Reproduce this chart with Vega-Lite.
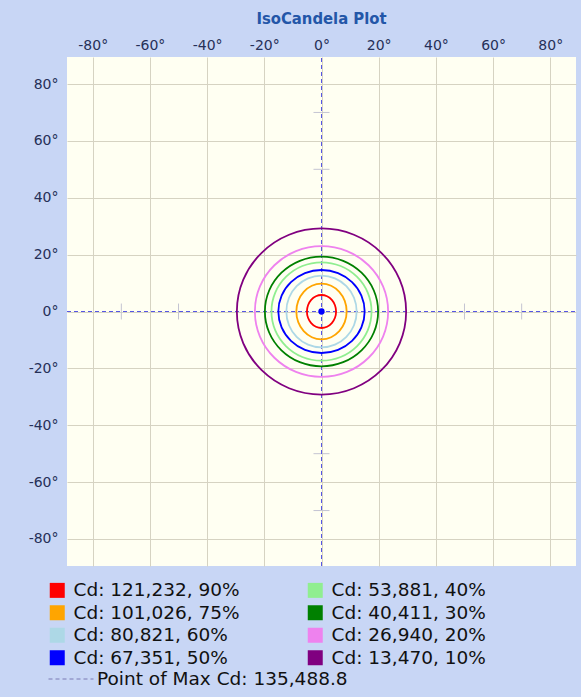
{
  "$schema": "https://vega.github.io/schema/vega-lite/v6.json",
  "autosize": {"type": "none"},
  "padding": {"left": 67, "top": 57, "right": 5, "bottom": 131},
  "width": 509,
  "height": 509,
  "background": "#c8d6f5",
  "title": {
    "text": "IsoCandela Plot",
    "font": "'DejaVu Sans Condensed', 'DejaVu Sans'",
    "fontSize": 16.5,
    "fontWeight": "bold",
    "color": "#2356a8",
    "anchor": "middle",
    "offset": 11
  },
  "config": {
    "view": {"fill": "#fffff2", "stroke": null},
    "axis": {
      "grid": true,
      "gridColor": "#d6d3c2",
      "gridWidth": 1,
      "domain": false,
      "ticks": false,
      "title": null,
      "labelFont": "DejaVu Sans",
      "labelFontSize": 14,
      "labelColor": "#263058"
    },
    "legend": {
      "labelFont": "DejaVu Sans",
      "labelFontSize": 18.5,
      "labelColor": "#111111",
      "labelLimit": 400,
      "title": null
    }
  },
  "datasets": {
    "contours": [
      {"c": "Cd: 121,232, 90%", "i": 0, "x": 5.1, "y": 0},
      {"c": "Cd: 121,232, 90%", "i": 1, "x": 4.71, "y": 2.22},
      {"c": "Cd: 121,232, 90%", "i": 2, "x": 3.61, "y": 4.1},
      {"c": "Cd: 121,232, 90%", "i": 3, "x": 1.95, "y": 5.36},
      {"c": "Cd: 121,232, 90%", "i": 4, "x": 0, "y": 5.8},
      {"c": "Cd: 121,232, 90%", "i": 5, "x": -1.95, "y": 5.36},
      {"c": "Cd: 121,232, 90%", "i": 6, "x": -3.61, "y": 4.1},
      {"c": "Cd: 121,232, 90%", "i": 7, "x": -4.71, "y": 2.22},
      {"c": "Cd: 121,232, 90%", "i": 8, "x": -5.1, "y": 0},
      {"c": "Cd: 121,232, 90%", "i": 9, "x": -4.71, "y": -2.22},
      {"c": "Cd: 121,232, 90%", "i": 10, "x": -3.61, "y": -4.1},
      {"c": "Cd: 121,232, 90%", "i": 11, "x": -1.95, "y": -5.36},
      {"c": "Cd: 121,232, 90%", "i": 12, "x": 0, "y": -5.8},
      {"c": "Cd: 121,232, 90%", "i": 13, "x": 1.95, "y": -5.36},
      {"c": "Cd: 121,232, 90%", "i": 14, "x": 3.61, "y": -4.1},
      {"c": "Cd: 121,232, 90%", "i": 15, "x": 4.71, "y": -2.22},

      {"c": "Cd: 101,026, 75%", "i": 0, "x": 8.8, "y": 0},
      {"c": "Cd: 101,026, 75%", "i": 1, "x": 8.13, "y": 3.75},
      {"c": "Cd: 101,026, 75%", "i": 2, "x": 6.22, "y": 6.93},
      {"c": "Cd: 101,026, 75%", "i": 3, "x": 3.37, "y": 9.06},
      {"c": "Cd: 101,026, 75%", "i": 4, "x": 0, "y": 9.8},
      {"c": "Cd: 101,026, 75%", "i": 5, "x": -3.37, "y": 9.06},
      {"c": "Cd: 101,026, 75%", "i": 6, "x": -6.22, "y": 6.93},
      {"c": "Cd: 101,026, 75%", "i": 7, "x": -8.13, "y": 3.75},
      {"c": "Cd: 101,026, 75%", "i": 8, "x": -8.8, "y": 0},
      {"c": "Cd: 101,026, 75%", "i": 9, "x": -8.13, "y": -3.75},
      {"c": "Cd: 101,026, 75%", "i": 10, "x": -6.22, "y": -6.93},
      {"c": "Cd: 101,026, 75%", "i": 11, "x": -3.37, "y": -9.06},
      {"c": "Cd: 101,026, 75%", "i": 12, "x": 0, "y": -9.8},
      {"c": "Cd: 101,026, 75%", "i": 13, "x": 3.37, "y": -9.06},
      {"c": "Cd: 101,026, 75%", "i": 14, "x": 6.22, "y": -6.93},
      {"c": "Cd: 101,026, 75%", "i": 15, "x": 8.13, "y": -3.75},

      {"c": "Cd: 80,821, 60%", "i": 0, "x": 12.3, "y": 0},
      {"c": "Cd: 80,821, 60%", "i": 1, "x": 11.37, "y": 4.83},
      {"c": "Cd: 80,821, 60%", "i": 2, "x": 8.7, "y": 8.91},
      {"c": "Cd: 80,821, 60%", "i": 3, "x": 4.71, "y": 11.64},
      {"c": "Cd: 80,821, 60%", "i": 4, "x": 0, "y": 12.6},
      {"c": "Cd: 80,821, 60%", "i": 5, "x": -4.71, "y": 11.64},
      {"c": "Cd: 80,821, 60%", "i": 6, "x": -8.7, "y": 8.91},
      {"c": "Cd: 80,821, 60%", "i": 7, "x": -11.37, "y": 4.83},
      {"c": "Cd: 80,821, 60%", "i": 8, "x": -12.3, "y": 0},
      {"c": "Cd: 80,821, 60%", "i": 9, "x": -11.37, "y": -4.83},
      {"c": "Cd: 80,821, 60%", "i": 10, "x": -8.7, "y": -8.91},
      {"c": "Cd: 80,821, 60%", "i": 11, "x": -4.71, "y": -11.64},
      {"c": "Cd: 80,821, 60%", "i": 12, "x": 0, "y": -12.6},
      {"c": "Cd: 80,821, 60%", "i": 13, "x": 4.71, "y": -11.64},
      {"c": "Cd: 80,821, 60%", "i": 14, "x": 8.7, "y": -8.91},
      {"c": "Cd: 80,821, 60%", "i": 15, "x": 11.37, "y": -4.83},

      {"c": "Cd: 67,351, 50%", "i": 0, "x": 15.1, "y": 0},
      {"c": "Cd: 67,351, 50%", "i": 1, "x": 13.95, "y": 5.59},
      {"c": "Cd: 67,351, 50%", "i": 2, "x": 10.68, "y": 10.32},
      {"c": "Cd: 67,351, 50%", "i": 3, "x": 5.78, "y": 13.49},
      {"c": "Cd: 67,351, 50%", "i": 4, "x": 0, "y": 14.6},
      {"c": "Cd: 67,351, 50%", "i": 5, "x": -5.78, "y": 13.49},
      {"c": "Cd: 67,351, 50%", "i": 6, "x": -10.68, "y": 10.32},
      {"c": "Cd: 67,351, 50%", "i": 7, "x": -13.95, "y": 5.59},
      {"c": "Cd: 67,351, 50%", "i": 8, "x": -15.1, "y": 0},
      {"c": "Cd: 67,351, 50%", "i": 9, "x": -13.95, "y": -5.59},
      {"c": "Cd: 67,351, 50%", "i": 10, "x": -10.68, "y": -10.32},
      {"c": "Cd: 67,351, 50%", "i": 11, "x": -5.78, "y": -13.49},
      {"c": "Cd: 67,351, 50%", "i": 12, "x": 0, "y": -14.6},
      {"c": "Cd: 67,351, 50%", "i": 13, "x": 5.78, "y": -13.49},
      {"c": "Cd: 67,351, 50%", "i": 14, "x": 10.68, "y": -10.32},
      {"c": "Cd: 67,351, 50%", "i": 15, "x": 13.95, "y": -5.59},

      {"c": "Cd: 53,881, 40%", "i": 0, "x": 17.5, "y": 0},
      {"c": "Cd: 53,881, 40%", "i": 1, "x": 16.17, "y": 6.63},
      {"c": "Cd: 53,881, 40%", "i": 2, "x": 12.37, "y": 12.23},
      {"c": "Cd: 53,881, 40%", "i": 3, "x": 6.7, "y": 15.99},
      {"c": "Cd: 53,881, 40%", "i": 4, "x": 0, "y": 17.3},
      {"c": "Cd: 53,881, 40%", "i": 5, "x": -6.7, "y": 15.99},
      {"c": "Cd: 53,881, 40%", "i": 6, "x": -12.37, "y": 12.23},
      {"c": "Cd: 53,881, 40%", "i": 7, "x": -16.17, "y": 6.63},
      {"c": "Cd: 53,881, 40%", "i": 8, "x": -17.5, "y": 0},
      {"c": "Cd: 53,881, 40%", "i": 9, "x": -16.17, "y": -6.63},
      {"c": "Cd: 53,881, 40%", "i": 10, "x": -12.37, "y": -12.23},
      {"c": "Cd: 53,881, 40%", "i": 11, "x": -6.7, "y": -15.99},
      {"c": "Cd: 53,881, 40%", "i": 12, "x": 0, "y": -17.3},
      {"c": "Cd: 53,881, 40%", "i": 13, "x": 6.7, "y": -15.99},
      {"c": "Cd: 53,881, 40%", "i": 14, "x": 12.37, "y": -12.23},
      {"c": "Cd: 53,881, 40%", "i": 15, "x": 16.17, "y": -6.63},

      {"c": "Cd: 40,411, 30%", "i": 0, "x": 19.8, "y": 0},
      {"c": "Cd: 40,411, 30%", "i": 1, "x": 18.3, "y": 7.39},
      {"c": "Cd: 40,411, 30%", "i": 2, "x": 14.0, "y": 13.65},
      {"c": "Cd: 40,411, 30%", "i": 3, "x": 7.58, "y": 17.83},
      {"c": "Cd: 40,411, 30%", "i": 4, "x": 0, "y": 19.3},
      {"c": "Cd: 40,411, 30%", "i": 5, "x": -7.58, "y": 17.83},
      {"c": "Cd: 40,411, 30%", "i": 6, "x": -14.0, "y": 13.65},
      {"c": "Cd: 40,411, 30%", "i": 7, "x": -18.3, "y": 7.39},
      {"c": "Cd: 40,411, 30%", "i": 8, "x": -19.8, "y": 0},
      {"c": "Cd: 40,411, 30%", "i": 9, "x": -18.3, "y": -7.39},
      {"c": "Cd: 40,411, 30%", "i": 10, "x": -14.0, "y": -13.65},
      {"c": "Cd: 40,411, 30%", "i": 11, "x": -7.58, "y": -17.83},
      {"c": "Cd: 40,411, 30%", "i": 12, "x": 0, "y": -19.3},
      {"c": "Cd: 40,411, 30%", "i": 13, "x": 7.58, "y": -17.83},
      {"c": "Cd: 40,411, 30%", "i": 14, "x": 14.0, "y": -13.65},
      {"c": "Cd: 40,411, 30%", "i": 15, "x": 18.3, "y": -7.39},

      {"c": "Cd: 26,940, 20%", "i": 0, "x": 23.3, "y": 0},
      {"c": "Cd: 26,940, 20%", "i": 1, "x": 21.53, "y": 8.81},
      {"c": "Cd: 26,940, 20%", "i": 2, "x": 16.47, "y": 16.26},
      {"c": "Cd: 26,940, 20%", "i": 3, "x": 8.92, "y": 21.25},
      {"c": "Cd: 26,940, 20%", "i": 4, "x": 0, "y": 23.0},
      {"c": "Cd: 26,940, 20%", "i": 5, "x": -8.92, "y": 21.25},
      {"c": "Cd: 26,940, 20%", "i": 6, "x": -16.47, "y": 16.26},
      {"c": "Cd: 26,940, 20%", "i": 7, "x": -21.53, "y": 8.81},
      {"c": "Cd: 26,940, 20%", "i": 8, "x": -23.3, "y": 0},
      {"c": "Cd: 26,940, 20%", "i": 9, "x": -21.53, "y": -8.81},
      {"c": "Cd: 26,940, 20%", "i": 10, "x": -16.47, "y": -16.26},
      {"c": "Cd: 26,940, 20%", "i": 11, "x": -8.92, "y": -21.25},
      {"c": "Cd: 26,940, 20%", "i": 12, "x": 0, "y": -23.0},
      {"c": "Cd: 26,940, 20%", "i": 13, "x": 8.92, "y": -21.25},
      {"c": "Cd: 26,940, 20%", "i": 14, "x": 16.47, "y": -16.26},
      {"c": "Cd: 26,940, 20%", "i": 15, "x": 21.53, "y": -8.81},

      {"c": "Cd: 13,470, 10%", "i": 0, "x": 29.6, "y": 0},
      {"c": "Cd: 13,470, 10%", "i": 1, "x": 27.35, "y": 11.18},
      {"c": "Cd: 13,470, 10%", "i": 2, "x": 20.93, "y": 20.64},
      {"c": "Cd: 13,470, 10%", "i": 3, "x": 11.34, "y": 26.98},
      {"c": "Cd: 13,470, 10%", "i": 4, "x": 0, "y": 29.2},
      {"c": "Cd: 13,470, 10%", "i": 5, "x": -11.34, "y": 26.98},
      {"c": "Cd: 13,470, 10%", "i": 6, "x": -20.93, "y": 20.64},
      {"c": "Cd: 13,470, 10%", "i": 7, "x": -27.35, "y": 11.18},
      {"c": "Cd: 13,470, 10%", "i": 8, "x": -29.6, "y": 0},
      {"c": "Cd: 13,470, 10%", "i": 9, "x": -27.35, "y": -11.18},
      {"c": "Cd: 13,470, 10%", "i": 10, "x": -20.93, "y": -20.64},
      {"c": "Cd: 13,470, 10%", "i": 11, "x": -11.34, "y": -26.98},
      {"c": "Cd: 13,470, 10%", "i": 12, "x": 0, "y": -29.2},
      {"c": "Cd: 13,470, 10%", "i": 13, "x": 11.34, "y": -26.98},
      {"c": "Cd: 13,470, 10%", "i": 14, "x": 20.93, "y": -20.64},
      {"c": "Cd: 13,470, 10%", "i": 15, "x": 27.35, "y": -11.18}
    ],
    "axes": [
      {"k": "Point of Max Cd: 135,488.8", "x": 0, "x2": 0, "y": -89.5, "y2": 89.5},
      {"k": "Point of Max Cd: 135,488.8", "x": -89, "x2": 89, "y": 0, "y2": 0}
    ],
    "marks": [
      {"x": -70, "x2": -70, "y": -2.8, "y2": 2.8},
      {"x": -50, "x2": -50, "y": -2.8, "y2": 2.8},
      {"x": 50, "x2": 50, "y": -2.8, "y2": 2.8},
      {"x": 70, "x2": 70, "y": -2.8, "y2": 2.8},
      {"x": -2.8, "x2": 2.8, "y": -70, "y2": -70},
      {"x": -2.8, "x2": 2.8, "y": -50, "y2": -50},
      {"x": -2.8, "x2": 2.8, "y": 50, "y2": 50},
      {"x": -2.8, "x2": 2.8, "y": 70, "y2": 70}
    ],
    "center": [
      {"x": 0, "y": 0}
    ]
  },
  "layer": [
    {
      "data": {"name": "marks"},
      "mark": {"type": "rule", "color": "#c4c4d2", "strokeWidth": 1},
      "encoding": {
        "x": {"field": "x", "type": "quantitative", "scale": {"domain": [-89, 89], "nice": false, "zero": false},
              "axis": {"orient": "top", "values": [-80, -60, -40, -20, 0, 20, 40, 60, 80], "labelExpr": "datum.value + '°'", "labelPadding": 5}},
        "x2": {"field": "x2"},
        "y": {"field": "y", "type": "quantitative", "scale": {"domain": [-89.5, 89.5], "nice": false, "zero": false},
              "axis": {"orient": "left", "values": [-80, -60, -40, -20, 0, 20, 40, 60, 80], "labelExpr": "datum.value + '°'", "labelPadding": 9}},
        "y2": {"field": "y2"}
      }
    },
    {
      "data": {"name": "axes"},
      "mark": {"type": "rule", "strokeWidth": 1},
      "encoding": {
        "x": {"field": "x", "type": "quantitative"},
        "x2": {"field": "x2"},
        "y": {"field": "y", "type": "quantitative"},
        "y2": {"field": "y2"},
        "stroke": {"value": "#5656e4"},
        "strokeDash": {
          "field": "k", "type": "nominal",
          "scale": {"range": [[4, 3]]},
          "legend": {
            "orient": "none", "legendX": -19, "legendY": 599,
            "symbolType": "stroke", "symbolSize": 2025, "symbolDash": [7, 5],
            "symbolStrokeColor": "#7a7ab4", "symbolStrokeWidth": 1,
            "labelOffset": 3
          }
        }
      }
    },
    {
      "data": {"name": "contours"},
      "mark": {"type": "line", "interpolate": "cardinal-closed", "strokeWidth": 1.8},
      "encoding": {
        "x": {"field": "x", "type": "quantitative"},
        "y": {"field": "y", "type": "quantitative"},
        "order": {"field": "i", "type": "quantitative"},
        "color": {
          "field": "c", "type": "nominal",
          "scale": {
            "domain": ["Cd: 121,232, 90%", "Cd: 101,026, 75%", "Cd: 80,821, 60%", "Cd: 67,351, 50%", "Cd: 53,881, 40%", "Cd: 40,411, 30%", "Cd: 26,940, 20%", "Cd: 13,470, 10%"],
            "range": ["#ff0000", "#ffa500", "#add8e6", "#0000ff", "#90ee90", "#008000", "#ee82ee", "#800080"]
          },
          "legend": {
            "orient": "none", "legendX": -19, "legendY": 524,
            "columns": 2, "columnPadding": 66, "rowPadding": 3.5,
            "symbolType": "square", "symbolSize": 225, "symbolStrokeWidth": 0,
            "labelOffset": 7,
            "encode": {"symbols": {"update": {"fill": {"scale": "color", "field": "value"}, "opacity": {"value": 1}}}}
          }
        }
      }
    },
    {
      "data": {"name": "center"},
      "mark": {"type": "point", "filled": true, "shape": "circle", "size": 40, "color": "#0000ff", "opacity": 1},
      "encoding": {
        "x": {"field": "x", "type": "quantitative"},
        "y": {"field": "y", "type": "quantitative"}
      }
    }
  ]
}
